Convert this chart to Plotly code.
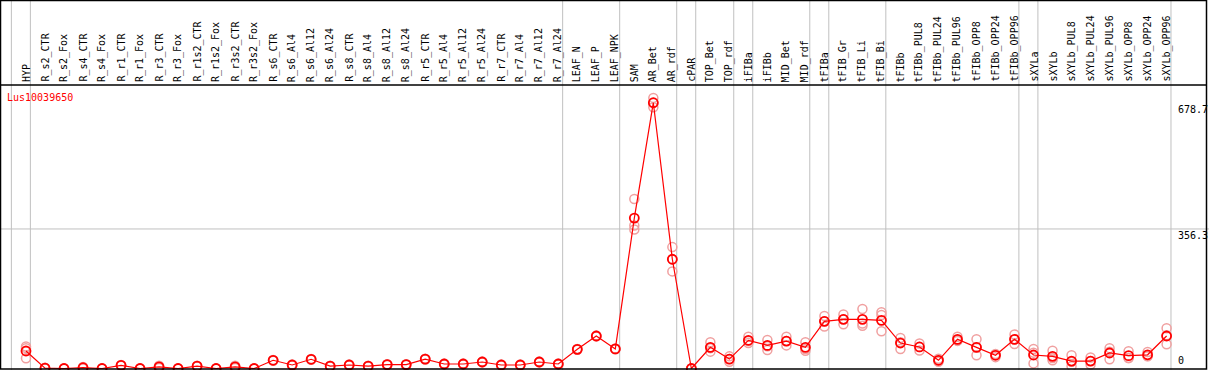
import plotly.graph_objects as go

categories = ["HYP", "R_s2_CTR", "R_s2_Fox", "R_s4_CTR", "R_s4_Fox", "R_r1_CTR", "R_r1_Fox",
              "R_r3_CTR", "R_r3_Fox", "R_r1s2_CTR", "R_r1s2_Fox", "R_r3s2_CTR", "R_r3s2_Fox",
              "R_s6_CTR", "R_s6_Al4", "R_s6_Al12", "R_s6_Al24", "R_s8_CTR", "R_s8_Al4",
              "R_s8_Al12", "R_s8_Al24", "R_r5_CTR", "R_r5_Al4", "R_r5_Al12", "R_r5_Al24",
              "R_r7_CTR", "R_r7_Al4", "R_r7_Al12", "R_r7_Al24", "LEAF_N", "LEAF_P", "LEAF_NPK",
              "SAM", "AR_Bet", "AR_rdf", "cPAR", "TOP_Bet", "TOP_rdf", "iFIBa", "iFIBb",
              "MID_Bet", "MID_rdf", "tFIBa", "tFIB_Gr", "tFIB_Li", "tFIB_Bi", "tFIBb",
              "tFIBb_PUL8", "tFIBb_PUL24", "tFIBb_PUL96", "tFIBb_OPP8", "tFIBb_OPP24",
              "tFIBb_OPP96", "sXYLa", "sXYLb", "sXYLb_PUL8", "sXYLb_PUL24", "sXYLb_PUL96",
              "sXYLb_OPP8", "sXYLb_OPP24", "sXYLb_OPP96"]

means = [44.7, 1, 0, 2, 0, 8, 0, 4, 0, 6, 0, 4, 0,
         21, 9, 23.5, 6, 9, 6, 10, 10, 24, 11.5, 11.5, 16.6, 9, 9, 16.6, 11.5,
         49, 83, 50, 384, 678.7, 279, 0, 54, 24, 72, 59, 70, 54,
         120.5, 125.6, 125.6, 123, 65, 55, 21, 74.5, 54, 33.7, 74.5,
         34.5, 31, 19, 19, 39.6, 32.7, 35, 83]

rep_hi = [52, 2, 0, 4, 0, 9, 0, 7, 0, 7, 0, 7, 0,
          22, 10, 24.5, 7, 10, 7, 11, 11, 25, 12.5, 12.5, 17.6, 10, 10, 17.6, 12.5,
          50, 84, 51, 433, 691, 310, 0, 67, 31, 81, 73, 81, 67,
          134, 138, 152, 143.5, 78, 64, 25, 81, 74.5, 37, 87,
          50, 45.5, 33.7, 28, 52, 44, 42, 102.6]
rep_lo = [26, 0, 0, 0, 0, 7, 0, 1, 0, 5, 0, 1, 0,
          20, 8, 22.5, 5, 8, 5, 9, 9, 23, 10.5, 10.5, 15.6, 8, 8, 15.6, 10.5,
          48, 82, 49, 355, 667, 248, 0, 43, 17, 65, 47, 59, 45.5,
          107, 113, 109, 95, 50, 46, 17, 72, 33.7, 29, 62.5,
          13, 21, 6, 10, 23.5, 27, 32, 61.8]
rep_mid = [56, 1, 0, 2, 0, 8, 0, 4, 0, 6, 0, 4, 0,
           21, 9, 23.5, 6, 9, 6, 10, 10, 24, 11.5, 11.5, 16.6, 9, 9, 16.6, 11.5,
           49, 83, 50, 365, 678, 279, 0, 52, 24, 70, 57, 70, 50,
           120.5, 126, 115, 136.6, 67, 55, 21, 70.5, 54, 35, 74,
           40.5, 26.5, 17, 19, 43, 27, 31, 84.6]

separators_after = [-1, 0, 28, 31, 34, 35, 37, 38, 41, 42, 45, 52, 53, 60]
series_name = "Lus10039650"
axis_labels = [678.7, 356.3, 0]
grid_value = 356.3

W, H = 1209, 370
top_px, bot_px, left_px, right_px = 85, 369, 1, 1207
xs = list(range(len(categories)))
FONT = "DejaVu Sans Mono"

fig = go.Figure()
for reps in (rep_hi, rep_lo, rep_mid):
    fig.add_trace(go.Scatter(
        x=xs, y=reps, mode="markers", showlegend=False, hoverinfo="skip", cliponaxis=False,
        marker=dict(symbol="circle-open", size=9, color="#f0a0a0",
                    line=dict(width=1.5, color="#f0a0a0"))))
fig.add_trace(go.Scatter(
    x=xs, y=means, mode="lines+markers", showlegend=False, cliponaxis=False,
    line=dict(color="red", width=1.2),
    marker=dict(symbol="circle-open", size=9, color="red",
                line=dict(width=1.8, color="#e00000"))))

shapes = []
for s in separators_after:
    xv = s + 0.23
    shapes.append(dict(type="line", xref="x", yref="paper", x0=xv, x1=xv, y0=0, y1=1,
                       line=dict(color="#c0c0c0", width=1), layer="below"))
shapes.append(dict(type="line", xref="paper", yref="y", x0=0, x1=1, y0=grid_value, y1=grid_value,
                   line=dict(color="#c0c0c0", width=1), layer="below"))
# frame and separator between labels and plot
shapes.append(dict(type="rect", xref="paper", yref="paper", x0=0.5 / W, x1=1 - 2.5 / W,
                   y0=1 - bot_px / H, y1=1 - 0.5 / H, line=dict(color="black", width=1.5)))
shapes.append(dict(type="line", xref="paper", yref="paper", x0=0, x1=1 - 2.5 / W,
                   y0=1 - top_px / H, y1=1 - top_px / H, line=dict(color="black", width=1.5)))

annotations = []
for i, c in enumerate(categories):
    annotations.append(dict(x=i, xref="x", y=1 - 83 / H, yref="paper", text=c, textangle=-90,
                            showarrow=False, xanchor="center", yanchor="bottom",
                            font=dict(family=FONT, size=10, color="black"), borderpad=0))
annotations.append(dict(x=5 / W, xref="paper", y=1 - 98 / H, yref="paper", text=series_name,
                        showarrow=False, xanchor="left", yanchor="middle",
                        font=dict(family=FONT, size=10, color="red")))
for v in axis_labels:
    if v == 0:
        annotations.append(dict(x=1176 / W, xref="paper", y=v, yref="y", text=str(v),
                                showarrow=False, xanchor="left", yanchor="bottom", yshift=1,
                                font=dict(family=FONT, size=10, color="black")))
    else:
        annotations.append(dict(x=1176 / W, xref="paper", y=v, yref="y", text=str(v),
                                showarrow=False, xanchor="left", yanchor="top", yshift=1,
                                font=dict(family=FONT, size=10, color="black")))

px_per_cat = 19.01
x0 = (left_px - 26) / px_per_cat
x1 = (right_px - 26) / px_per_cat
scale = (368.5 - 102.7) / 678.7
y_lo = (368.5 - bot_px) / scale
y_hi = (368.5 - top_px) / scale

fig.update_layout(
    width=W, height=H, margin=dict(l=0, r=0, t=0, b=0, autoexpand=False),
    paper_bgcolor="white", plot_bgcolor="white",
    xaxis=dict(domain=[left_px / W, right_px / W], range=[x0, x1], visible=False, fixedrange=True),
    yaxis=dict(domain=[1 - bot_px / H, 1 - top_px / H], range=[y_lo, y_hi], visible=False, fixedrange=True),
    shapes=shapes, annotations=annotations, showlegend=False,
)
fig.write_html("out.html", config={"displayModeBar": False},
               post_script="document.body.style.margin='0px';document.body.style.overflow='hidden';")
